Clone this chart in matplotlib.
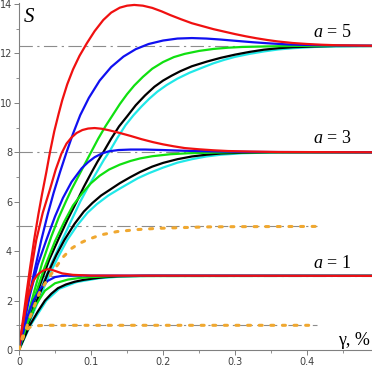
import matplotlib
matplotlib.use("Agg")
import matplotlib.pyplot as plt
from matplotlib.ticker import MultipleLocator

plt.rcParams["mathtext.fontset"] = "custom"
plt.rcParams["mathtext.it"] = "Liberation Serif:italic"
plt.rcParams["mathtext.rm"] = "Liberation Serif"

# ---------------------------------------------------------------------------
# Data: S(gamma) curves for a = 5, 3, 1
# ---------------------------------------------------------------------------

asymptotes = [12.3, 8.0, 5.0, 3.0, 1.0]
asym_ends = [0.49, 0.49, 0.413, 0.49, 0.413]

# a = 5
red5_x = [0, 0.005, 0.01, 0.015, 0.021, 0.027, 0.032, 0.038, 0.043, 0.049, 0.055, 0.06, 0.067, 0.075, 0.084,
          0.094, 0.105, 0.117, 0.128, 0.14, 0.15, 0.16, 0.172, 0.185, 0.198, 0.21, 0.225, 0.24, 0.255, 0.27,
          0.285, 0.30, 0.315, 0.33, 0.345, 0.36, 0.38, 0.40, 0.42, 0.44, 0.465, 0.49]
red5_y = [0, 1.1, 2.2, 3.25, 4.45, 5.5, 6.3, 7.2, 8.0, 8.85, 9.55, 10.1, 10.75, 11.35, 11.9,
          12.4, 12.9, 13.35, 13.65, 13.85, 13.93, 13.96, 13.93, 13.84, 13.7, 13.55, 13.38, 13.22, 13.1, 12.98,
          12.88, 12.78, 12.69, 12.61, 12.54, 12.48, 12.42, 12.38, 12.35, 12.33, 12.32, 12.31]
blue5_x = [0, 0.006, 0.012, 0.02, 0.031, 0.04, 0.048, 0.057, 0.066, 0.075, 0.085, 0.097, 0.112, 0.128, 0.145,
           0.162, 0.18, 0.2, 0.22, 0.24, 0.26, 0.28, 0.30, 0.325, 0.35, 0.375, 0.40, 0.44, 0.49]
blue5_y = [0, 0.95, 1.9, 3.0, 4.45, 5.5, 6.35, 7.2, 8.0, 8.75, 9.5, 10.2, 10.9, 11.45, 11.87,
           12.17, 12.38, 12.52, 12.6, 12.62, 12.6, 12.56, 12.51, 12.45, 12.4, 12.36, 12.34, 12.32, 12.31]
green5_x = [0, 0.01, 0.02, 0.032, 0.045, 0.055, 0.065, 0.073, 0.082, 0.091, 0.1, 0.11, 0.12, 0.13, 0.14,
            0.15, 0.16, 0.172, 0.185, 0.2, 0.215, 0.23, 0.25, 0.27, 0.29, 0.31, 0.34, 0.38, 0.49]
green5_y = [0, 1.15, 2.25, 3.5, 4.6, 5.35, 6.0, 6.5, 7.0, 7.5, 8.0, 8.55, 9.05, 9.5, 9.95,
            10.35, 10.7, 11.05, 11.38, 11.65, 11.85, 11.98, 12.1, 12.18, 12.23, 12.26, 12.28, 12.3, 12.3]
black5_x = [0, 0.01, 0.02, 0.03, 0.042, 0.055, 0.067, 0.08, 0.09, 0.101, 0.109, 0.117, 0.128, 0.139, 0.15,
            0.162, 0.175, 0.188, 0.2, 0.212, 0.224, 0.24, 0.261, 0.28, 0.30, 0.32, 0.34, 0.36, 0.38, 0.41,
            0.44, 0.49]
black5_y = [0, 1.0, 1.9, 2.7, 3.65, 4.5, 5.25, 6.0, 6.6, 7.2, 7.62, 8.0, 8.55, 9.05, 9.45,
            9.9, 10.3, 10.65, 10.9, 11.1, 11.28, 11.48, 11.67, 11.82, 11.95, 12.06, 12.15, 12.21, 12.25, 12.28,
            12.3, 12.3]
cyan5_x = [0, 0.01, 0.02, 0.03, 0.045, 0.06, 0.072, 0.085, 0.097, 0.11, 0.118, 0.126, 0.137, 0.148, 0.159,
           0.17, 0.181, 0.192, 0.205, 0.22, 0.237, 0.255, 0.27, 0.285, 0.30, 0.32, 0.34, 0.36, 0.38, 0.41,
           0.44, 0.49]
cyan5_y = [0, 0.9, 1.7, 2.45, 3.5, 4.45, 5.2, 6.0, 6.65, 7.3, 7.7, 8.05, 8.6, 9.1, 9.5,
           9.85, 10.17, 10.45, 10.72, 10.98, 11.22, 11.43, 11.6, 11.74, 11.86, 11.98, 12.08, 12.16, 12.21, 12.26,
           12.28, 12.3]

# a = 3
red3_x = [0, 0.005, 0.01, 0.017, 0.024, 0.033, 0.043, 0.051, 0.059, 0.066, 0.073, 0.08, 0.088, 0.096, 0.105,
          0.115, 0.125, 0.14, 0.155, 0.17, 0.186, 0.2, 0.215, 0.23, 0.25, 0.27, 0.29, 0.32, 0.36, 0.49]
red3_y = [0, 0.95, 1.9, 3.25, 4.45, 5.55, 6.5, 7.3, 7.95, 8.35, 8.6, 8.78, 8.9, 8.96, 8.98,
          8.95, 8.89, 8.78, 8.66, 8.53, 8.41, 8.32, 8.24, 8.17, 8.12, 8.08, 8.05, 8.03, 8.01, 8.0]
blue3_x = [0, 0.007, 0.015, 0.026, 0.038, 0.05, 0.061, 0.073, 0.087, 0.096, 0.105, 0.115, 0.125, 0.138, 0.155,
           0.175, 0.2, 0.23, 0.26, 0.3, 0.35, 0.49]
blue3_y = [0, 1.05, 2.2, 3.45, 4.45, 5.4, 6.15, 6.8, 7.35, 7.6, 7.8, 7.95, 8.04, 8.09, 8.11,
           8.11, 8.09, 8.06, 8.04, 8.02, 8.01, 8.0]
green3_x = [0, 0.01, 0.02, 0.035, 0.05, 0.063, 0.075, 0.088, 0.1, 0.112, 0.125, 0.14, 0.155, 0.168, 0.185,
            0.21, 0.235, 0.26, 0.3, 0.49]
green3_y = [0, 1.05, 2.0, 3.3, 4.4, 5.2, 5.85, 6.35, 6.75, 7.05, 7.3, 7.5, 7.65, 7.75, 7.84,
            7.92, 7.96, 7.98, 8.0, 8.0]
black3_x = [0, 0.012, 0.025, 0.04, 0.052, 0.063, 0.077, 0.09, 0.102, 0.114, 0.127, 0.14, 0.155, 0.168, 0.185,
            0.2, 0.22, 0.24, 0.26, 0.28, 0.31, 0.35, 0.49]
black3_y = [0, 1.0, 2.0, 3.1, 3.85, 4.45, 5.1, 5.6, 5.95, 6.25, 6.5, 6.75, 7.0, 7.2, 7.42,
            7.57, 7.72, 7.83, 7.9, 7.95, 7.98, 8.0, 8.0]
cyan3_x = [0, 0.013, 0.027, 0.043, 0.056, 0.067, 0.081, 0.095, 0.108, 0.124, 0.137, 0.15, 0.165, 0.18, 0.2,
           0.22, 0.24, 0.26, 0.28, 0.31, 0.36, 0.49]
cyan3_y = [0, 1.0, 2.0, 3.1, 3.85, 4.45, 5.05, 5.55, 5.9, 6.25, 6.48, 6.7, 6.95, 7.15, 7.38,
           7.58, 7.72, 7.83, 7.9, 7.96, 8.0, 8.0]

# a = 1
red1_x = [0, 0.005, 0.012, 0.02, 0.025, 0.03, 0.035, 0.04, 0.045, 0.05, 0.06, 0.075, 0.1, 0.49]
red1_y = [0, 1.0, 2.1, 2.8, 3.02, 3.15, 3.23, 3.27, 3.25, 3.2, 3.1, 3.04, 3.01, 3.0]
blue1_x = [0, 0.01, 0.02, 0.03, 0.04, 0.05, 0.06, 0.08, 0.1, 0.49]
blue1_y = [0, 1.2, 2.0, 2.5, 2.8, 2.95, 3.0, 3.02, 3.01, 3.0]
green1_x = [0, 0.012, 0.024, 0.036, 0.05, 0.068, 0.085, 0.1, 0.13, 0.49]
green1_y = [0, 1.1, 1.85, 2.4, 2.7, 2.85, 2.92, 2.95, 2.99, 3.0]
black1_x = [0, 0.015, 0.026, 0.036, 0.045, 0.054, 0.065, 0.077, 0.09, 0.105, 0.12, 0.137, 0.17, 0.49]
black1_y = [0, 1.0, 1.55, 2.0, 2.28, 2.5, 2.65, 2.76, 2.84, 2.9, 2.95, 2.98, 3.0, 3.0]
cyan1_x = [0, 0.016, 0.038, 0.056, 0.08, 0.11, 0.14, 0.18, 0.49]
cyan1_y = [0, 1.0, 2.0, 2.48, 2.75, 2.9, 2.97, 3.0, 3.0]

# orange dotted curves
orange5_x = [0, 0.015, 0.029, 0.0385, 0.05, 0.0615, 0.073, 0.083, 0.094, 0.1125, 0.136, 0.163, 0.191, 0.224,
             0.26, 0.30, 0.413]
orange5_y = [0, 1.3, 2.36, 2.8, 3.3, 3.77, 4.11, 4.3, 4.45, 4.65, 4.79, 4.87, 4.92, 4.95, 4.98, 4.99, 5.0]
orange1_x = [0, 0.005, 0.01, 0.015, 0.025, 0.035, 0.413]
orange1_y = [0, 0.55, 0.8, 0.92, 0.98, 1.0, 1.0]

labels = ["$a$ = 5", "$a$ = 3", "$a$ = 1"]
label_y = [12.67, 8.39, 3.33]

COLORS = {
    "red": "#f01010",
    "blue": "#1010f0",
    "green": "#10e010",
    "black": "#000000",
    "cyan": "#20e8e8",
    "orange": "#f0a830",
    "ref": "#8c8c8c",
}

fig = plt.figure(figsize=(3.72, 3.70), dpi=100)
ax = fig.add_axes([0.051, 0.054, 0.949, 0.938])

for yv, xe in zip(asymptotes, asym_ends):
    ax.plot([0, xe], [yv, yv], color=COLORS["ref"], lw=0.8,
            linestyle=(0, (12, 4, 2, 4)), zorder=1)

groups = [
    (cyan5_x, cyan5_y, black5_x, black5_y, green5_x, green5_y, blue5_x, blue5_y, red5_x, red5_y),
    (cyan3_x, cyan3_y, black3_x, black3_y, green3_x, green3_y, blue3_x, blue3_y, red3_x, red3_y),
    (cyan1_x, cyan1_y, black1_x, black1_y, green1_x, green1_y, blue1_x, blue1_y, red1_x, red1_y),
]
order = ["cyan", "black", "green", "blue", "red"]
for g in groups:
    for k, name in enumerate(order):
        ax.plot(g[2 * k], g[2 * k + 1], color=COLORS[name], lw=1.6,
                solid_capstyle="round", solid_joinstyle="round", zorder=2)

for xs, ys in [(orange5_x, orange5_y), (orange1_x, orange1_y)]:
    ax.plot(xs, ys, color=COLORS["orange"], lw=2.2, linestyle=(0, (1.0, 2.8)),
            dash_capstyle="round", zorder=3)

for txt, yv in zip(labels, label_y):
    ax.text(0.408, yv, txt, fontsize=13, family="Liberation Serif",
            va="baseline", ha="left")
ax.text(0.4875, 0.2, "γ, %", fontsize=13, family="Liberation Serif",
        va="baseline", ha="right")
ax.text(0.006, 13.5, "$S$", fontsize=15, va="center", ha="left")

ax.set_xlim(0, 0.49)
ax.set_ylim(0, 14.04)
ax.xaxis.set_minor_locator(MultipleLocator(0.05))
ax.yaxis.set_major_locator(MultipleLocator(2))
ax.yaxis.set_minor_locator(MultipleLocator(1))
ax.set_xticks([0, 0.1, 0.2, 0.3, 0.4])
ax.set_xticklabels(["0", "0.1", "0.2", "0.3", "0.4"])

for s in ["top", "right"]:
    ax.spines[s].set_visible(False)
for s in ["left", "bottom"]:
    ax.spines[s].set_color("#808080")
    ax.spines[s].set_linewidth(0.8)
ax.tick_params(which="major", length=3.5, width=0.7, color="#808080",
               labelsize=7, labelcolor="#404040", pad=1.5)
ax.tick_params(which="minor", length=2.5, width=0.6, color="#808080")

fig.savefig("out.png", dpi=100, facecolor="white")
